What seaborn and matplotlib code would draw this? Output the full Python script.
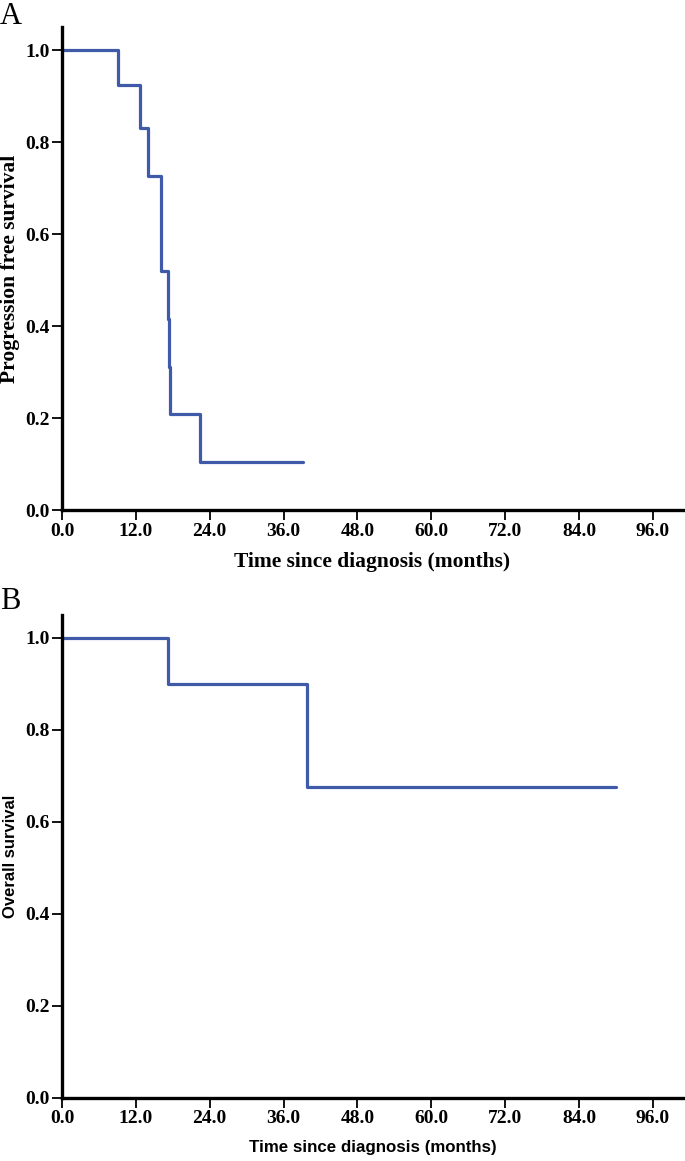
import numpy as np
import pandas as pd
import matplotlib
matplotlib.use("Agg")
import matplotlib.pyplot as plt
import seaborn as sns

# Kaplan-Meier step points
pfs_months = [0, 9.15, 12.7, 14.0, 16.1, 17.3, 17.4, 17.5, 22.4, 39.2]
pfs_surv = [1.0, 0.923, 0.831, 0.727, 0.519, 0.416, 0.312, 0.208, 0.104, 0.104]

os_months = [0, 17.3, 39.8, 90.1]
os_surv = [1.0, 0.9, 0.675, 0.675]

x_ticks = [0, 12, 24, 36, 48, 60, 72, 84, 96]
y_ticks = [0.0, 0.2, 0.4, 0.6, 0.8, 1.0]

sns.set_style("ticks", {"text.color": "black", "axes.labelcolor": "black",
                        "xtick.color": "black", "ytick.color": "black"})
line_color = "#3f5aa9"
serif = ["Liberation Serif", "DejaVu Serif"]
sans = ["Liberation Sans", "DejaVu Sans"]

fig = plt.figure(figsize=(6.85, 11.61), dpi=100)
ax_a = fig.add_axes([0.0905, 0.5607, 0.9065, 0.416])
ax_b = fig.add_axes([0.0905, 0.0543, 0.9065, 0.416])


def style_axes(ax, xlabel, ylabel, label_family, xl_size, yl_size):
    ax.set_xlim(0, 100.9)
    ax.set_ylim(0, 1.05)
    ax.set_xticks(x_ticks)
    ax.set_xticklabels([f"{t:.1f}" for t in x_ticks])
    ax.set_yticks(y_ticks)
    ax.set_yticklabels([f"{t:.1f}" for t in y_ticks])
    for side in ["top", "right"]:
        ax.spines[side].set_visible(False)
    for side in ["left", "bottom"]:
        ax.spines[side].set_linewidth(2.4)
        ax.spines[side].set_color("black")
    ax.tick_params(axis="both", length=7, width=1.3, color="black",
                   labelcolor="black", pad=2)
    for lab in ax.get_xticklabels() + ax.get_yticklabels():
        lab.set_family(serif)
        lab.set_fontweight("bold")
        lab.set_fontsize(14)
    ax.set_xlabel(xlabel, family=label_family, fontweight="bold",
                  fontsize=xl_size, labelpad=9, color="black")
    ax.set_ylabel(ylabel, family=label_family, fontweight="bold",
                  fontsize=yl_size, color="black")
    ax.grid(False)


sns.lineplot(x=pfs_months, y=pfs_surv, ax=ax_a, drawstyle="steps-post",
             color=line_color, linewidth=2.3, estimator=None, sort=False)
sns.lineplot(x=os_months, y=os_surv, ax=ax_b, drawstyle="steps-post",
             color=line_color, linewidth=2.3, estimator=None, sort=False)

style_axes(ax_a, "Time since diagnosis (months)", "Progression free survival",
           serif, 15.5, 15.5)
style_axes(ax_b, "Time since diagnosis (months)", "Overall survival",
           sans, 12.2, 12)

ax_a.yaxis.set_label_coords(-0.067, 0.5)
ax_b.yaxis.set_label_coords(-0.071, 0.5)

fig.text(0.0, 1 - 2 / 1161, "A", family=serif, fontsize=22, va="top",
         ha="left", color="black")
fig.text(0.0, 1 - 587 / 1161, "B", family=serif, fontsize=22, va="top",
         ha="left", color="black")

fig.savefig("out.png", dpi=100)
